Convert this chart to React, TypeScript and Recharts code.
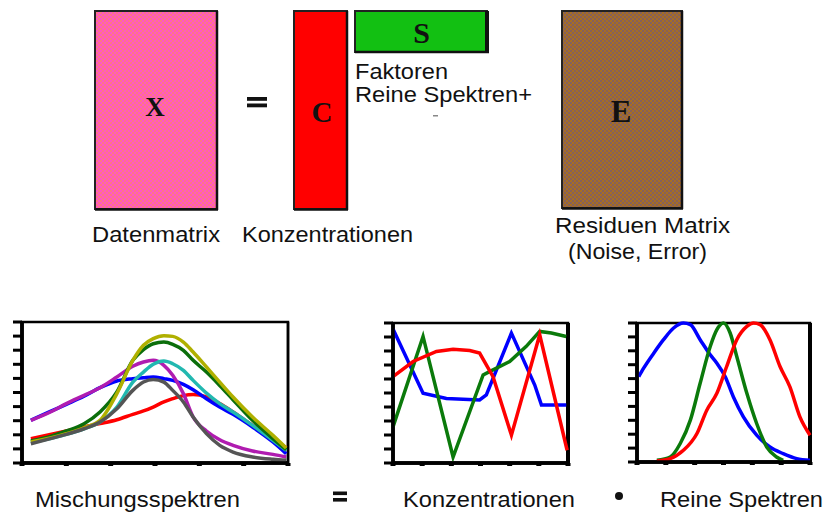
import React from 'react';
import { LineChart, Line, XAxis, YAxis, ReferenceArea, ReferenceLine } from 'recharts';

// ---- Mischungsspektren (mixture spectra) ----
const mixX = [2, 6.4, 10, 14, 17.6, 21.4, 25, 27.4, 29.6, 32, 34, 36.4, 38.6, 41.6, 44.6, 47.6, 52, 56.6, 59.6];
const mixRed = [1.73, 2.03, 2.27, 2.55, 2.79, 3.07, 3.45, 3.69, 3.97, 4.33, 4.56, 4.78, 4.85, 4.68, 4.21, 3.62, 2.67, 1.73, 1.09];
const mixBlue = [3.03, 3.66, 4.16, 4.73, 5.34, 5.82, 5.98, 6.05, 6.1, 5.98, 5.86, 5.58, 5.2, 4.56, 3.97, 3.45, 2.55, 1.49, 0.66];
const mixMagenta = [3.03, 3.62, 4.21, 4.8, 5.34, 6.1, 6.86, 7.16, 7.28, 6.93, 6.22, 4.92, 3.26, 2.27, 1.65, 1.25, 0.85, 0.61, 0.43];
const mixCyan = [1.47, 1.73, 2.03, 2.43, 2.91, 3.97, 5.74, 6.45, 7.0, 7.23, 7.04, 6.57, 5.86, 4.96, 4.21, 3.62, 2.67, 1.61, 0.9];
const mixGreen = [1.56, 1.89, 2.27, 2.79, 3.62, 5.04, 7.28, 8.04, 8.46, 8.58, 8.42, 7.99, 7.28, 6.45, 5.5, 4.49, 3.03, 1.73, 0.95];
const mixYellow = [1.49, 1.77, 2.08, 2.5, 3.03, 4.92, 7.28, 8.35, 8.82, 9.03, 8.98, 8.58, 7.87, 6.81, 5.74, 4.68, 3.26, 1.96, 1.06];
const mixGray = [1.37, 1.73, 2.03, 2.43, 2.91, 3.85, 5.15, 5.74, 5.93, 5.74, 5.15, 4.33, 3.26, 2.08, 1.25, 0.78, 0.43, 0.26, 0.19];
const mixXTicks = [0, 10, 20, 30, 40, 50, 60];

// ---- Konzentrationen (concentrations) ----
const concBlueX = [0, 1.03, 1.83, 2.97, 3.2, 4.06, 4.86, 5.09, 5.94];
const concBlueY = [9.57, 4.98, 4.61, 4.5, 4.86, 9.28, 5.57, 4.14, 4.14];
const concRedX = [0, 0.69, 1.49, 2.06, 2.63, 2.97, 3.43, 4.06, 5.03, 5.97];
const concRedY = [6.17, 7.25, 7.97, 8.13, 8.04, 7.85, 6.17, 1.99, 9.16, 0.91];
const concGreenX = [0, 1.03, 2.06, 3.09, 3.31, 4.0, 4.57, 5.03, 5.43, 5.94];
const concGreenY = [2.58, 9.04, 0.43, 6.29, 6.53, 7.25, 8.33, 9.4, 9.28, 9.04];

// ---- Reine Spektren (pure spectra) ----
const pureBlueX = [0.06, 0.23, 0.58, 0.92, 1.27, 1.61, 1.85, 2.19, 2.54, 2.77, 3.06, 3.34, 3.69, 4.15, 4.61, 5.07, 5.54, 6.0];
const pureBlueY = [6.14, 6.75, 7.83, 8.8, 9.64, 10.0, 9.88, 8.8, 7.71, 7.11, 6.14, 4.7, 3.25, 1.93, 1.08, 0.6, 0.24, 0.12];
const pureGreenX = [0.69, 1.15, 1.5, 1.85, 2.19, 2.54, 2.77, 3.0, 3.23, 3.46, 3.81, 4.15, 4.5, 4.84, 5.07];
const pureGreenY = [0.12, 0.36, 1.33, 3.01, 5.66, 8.31, 9.52, 10.0, 9.28, 7.59, 4.94, 2.77, 1.08, 0.36, 0.12];
const pureRedX = [0.69, 1.15, 1.61, 2.08, 2.42, 2.77, 3.11, 3.46, 3.81, 4.04, 4.27, 4.61, 4.96, 5.3, 5.65, 6.0];
const pureRedY = [0.07, 0.24, 0.84, 2.05, 3.73, 4.94, 6.87, 8.8, 9.76, 10.0, 9.88, 8.8, 6.87, 5.42, 3.25, 1.93];

const sixTicks = [0, 1, 2, 3, 4, 5, 6];
const yTicks = [0, 1, 2, 3, 4, 5, 6, 7, 8, 9, 10];

const zip = (xs: number[], ys: number[]) => xs.map((x, i) => ({ x, y: ys[i] }));

type Series = { data: { x: number; y: number }[]; color: string; width?: number; curve?: 'linear' | 'monotone' };

const SANS = '"Liberation Sans", Arial, sans-serif';
const SERIF = '"Liberation Serif", "Times New Roman", serif';

const NoLabel = () => <g />;

function Panel(props: {
  left: number; top: number; plotW: number; plotH: number; xMax: number; xTicks: number[];
  series: Series[]; rightWidth: number;
}) {
  const { left, top, plotW, plotH, xMax, xTicks, series, rightWidth } = props;
  const yW = 20, mT = 10, mR = 10, xH = 10;
  return (
    <div style={{ position: 'absolute', left: left - yW, top: top - mT }}>
      <LineChart width={yW + plotW + mR} height={mT + plotH + xH} margin={{ top: mT, right: mR, bottom: 0, left: 0 }}>
        <ReferenceArea x1={0} x2={xMax} y1={0} y2={10} fill="none" stroke="#000" strokeWidth={2.5} ifOverflow="visible" />
        <ReferenceLine x={xMax} stroke="#000" strokeWidth={rightWidth} ifOverflow="visible" />
        <ReferenceLine x={0} stroke="#000" strokeWidth={3.5} ifOverflow="visible" />
        <ReferenceLine y={0} stroke="#000" strokeWidth={3.5} ifOverflow="visible" />
        <XAxis type="number" dataKey="x" domain={[0, xMax]} ticks={xTicks} interval={0} tick={NoLabel} tickSize={3} height={xH}
          axisLine={{ stroke: '#000', strokeWidth: 3.5 }} tickLine={{ stroke: '#000', strokeWidth: 5 }} />
        <YAxis type="number" domain={[0, 10]} ticks={yTicks} interval={0} tick={NoLabel} tickSize={9} width={yW}
          axisLine={{ stroke: '#000', strokeWidth: 3.5 }} tickLine={{ stroke: '#000', strokeWidth: 3 }} />
        {series.map((s, i) => (
          <Line key={i} data={s.data} dataKey="y" type={s.curve || 'monotone'} stroke={s.color}
            strokeWidth={s.width || 3.5} dot={false} isAnimationActive={false} />
        ))}
      </LineChart>
    </div>
  );
}

export default function App() {
  const mixSeries: Series[] = [
    { data: zip(mixX, mixRed), color: '#ff0000' },
    { data: zip(mixX, mixBlue), color: '#0000ff' },
    { data: zip(mixX, mixMagenta), color: '#b01cb0' },
    { data: zip(mixX, mixCyan), color: '#22b8b0' },
    { data: zip(mixX, mixGreen), color: '#0b6e0b' },
    { data: zip(mixX, mixYellow), color: '#b0b000' },
    { data: zip(mixX, mixGray), color: '#555555' },
  ];
  const concSeries: Series[] = [
    { data: zip(concBlueX, concBlueY), color: '#0000ff', curve: 'linear' },
    { data: zip(concGreenX, concGreenY), color: '#0b7a0b', curve: 'linear' },
    { data: zip(concRedX, concRedY), color: '#ff0000', curve: 'linear' },
  ];
  const pureSeries: Series[] = [
    { data: zip(pureBlueX, pureBlueY), color: '#0000ff' },
    { data: zip(pureGreenX, pureGreenY), color: '#0b7a0b' },
    { data: zip(pureRedX, pureRedY), color: '#ff0000' },
  ];

  const label = (x: number, y: number, len: number, s: string) => (
    <text x={x} y={y} textLength={len} lengthAdjust="spacingAndGlyphs" fontSize={22} fontFamily={SANS} fill="#111">{s}</text>
  );

  return (
    <div style={{ position: 'absolute', left: 0, top: 0, width: 826, height: 513, background: '#fff', overflow: 'hidden' }}>
      <svg width={826} height={513} style={{ position: 'absolute', left: 0, top: 0 }}>
        <defs>
          <pattern id="pinkPat" width="4" height="4" patternUnits="userSpaceOnUse">
            <rect width="4" height="4" fill="#ff58c4" />
            <rect width="2" height="2" fill="#ff7486" />
            <rect x="2" y="2" width="2" height="2" fill="#ff7486" />
          </pattern>
          <pattern id="brownPat" width="4" height="4" patternUnits="userSpaceOnUse">
            <rect width="4" height="4" fill="#a66e22" />
            <rect width="2" height="2" fill="#86605a" />
            <rect x="2" y="2" width="2" height="2" fill="#86605a" />
          </pattern>
        </defs>
        {/* X matrix */}
        <rect x={95} y={11} width={122} height={198} fill="url(#pinkPat)" stroke="#222" strokeWidth={2} />
        <line x1={217} y1={11} x2={217} y2={210} stroke="#111" strokeWidth={2.5} />
        <line x1={95} y1={209.5} x2={218} y2={209.5} stroke="#111" strokeWidth={2.5} />
        <text x={155} y={116} fontSize={27} fontWeight="bold" fontFamily={SERIF} textAnchor="middle" fill="#111">X</text>
        {/* = */}
        <rect x={247} y={97} width={20} height={3.8} fill="#111" />
        <rect x={247} y={103.5} width={20} height={3.8} fill="#111" />
        {/* C matrix */}
        <rect x={294} y={11} width={53} height={198} fill="#ff0000" stroke="#222" strokeWidth={2} />
        <line x1={347} y1={11} x2={347} y2={210} stroke="#111" strokeWidth={2.5} />
        <line x1={294} y1={209.5} x2={348} y2={209.5} stroke="#111" strokeWidth={2.5} />
        <text x={322} y={122} fontSize={29} fontWeight="bold" fontFamily={SERIF} textAnchor="middle" fill="#111">C</text>
        {/* S matrix */}
        <rect x={355} y={11} width={132} height={41} fill="#12c012" stroke="#222" strokeWidth={2} />
        <line x1={487} y1={11} x2={487} y2={53} stroke="#111" strokeWidth={4} />
        <line x1={355} y1={52} x2={489} y2={52} stroke="#111" strokeWidth={2.5} />
        <text x={421.5} y={43} fontSize={30} fontWeight="bold" fontFamily={SERIF} textAnchor="middle" fill="#111">S</text>
        {label(355, 79, 93, 'Faktoren')}
        {label(355, 102, 177, 'Reine Spektren+')}
        <rect x={433} y={115} width={5} height={1.5} fill="#888" />
        {/* E matrix */}
        <rect x={562} y={11} width={120} height={197} fill="url(#brownPat)" stroke="#222" strokeWidth={2} />
        <line x1={682} y1={11} x2={682} y2={209} stroke="#111" strokeWidth={2.5} />
        <line x1={562} y1={208.5} x2={683} y2={208.5} stroke="#111" strokeWidth={2.5} />
        <text x={621} y={122} fontSize={31} fontWeight="bold" fontFamily={SERIF} textAnchor="middle" fill="#111">E</text>
        {label(92, 242, 128, 'Datenmatrix')}
        {label(242, 242, 171, 'Konzentrationen')}
        {label(555, 233, 175, 'Residuen Matrix')}
        {label(568, 259, 139, '(Noise, Error)')}
        {/* bottom row */}
        {label(35, 507, 205, 'Mischungsspektren')}
        <rect x={333} y={491.5} width={14} height={3.6} fill="#111" />
        <rect x={333} y={498} width={14} height={3.6} fill="#111" />
        {label(403, 507, 172, 'Konzentrationen')}
        <circle cx={619} cy={496} r={4} fill="#111" />
        {label(660, 507, 163, 'Reine Spektren')}
      </svg>
      <Panel left={22} top={322} plotW={266} plotH={141} xMax={60} xTicks={mixXTicks} series={mixSeries} rightWidth={2.5} />
      <Panel left={393} top={323} plotW={175} plotH={140} xMax={6} xTicks={sixTicks} series={concSeries} rightWidth={4} />
      <Panel left={637} top={323} plotW={173} plotH={139} xMax={6} xTicks={sixTicks} series={pureSeries} rightWidth={4} />
    </div>
  );
}
